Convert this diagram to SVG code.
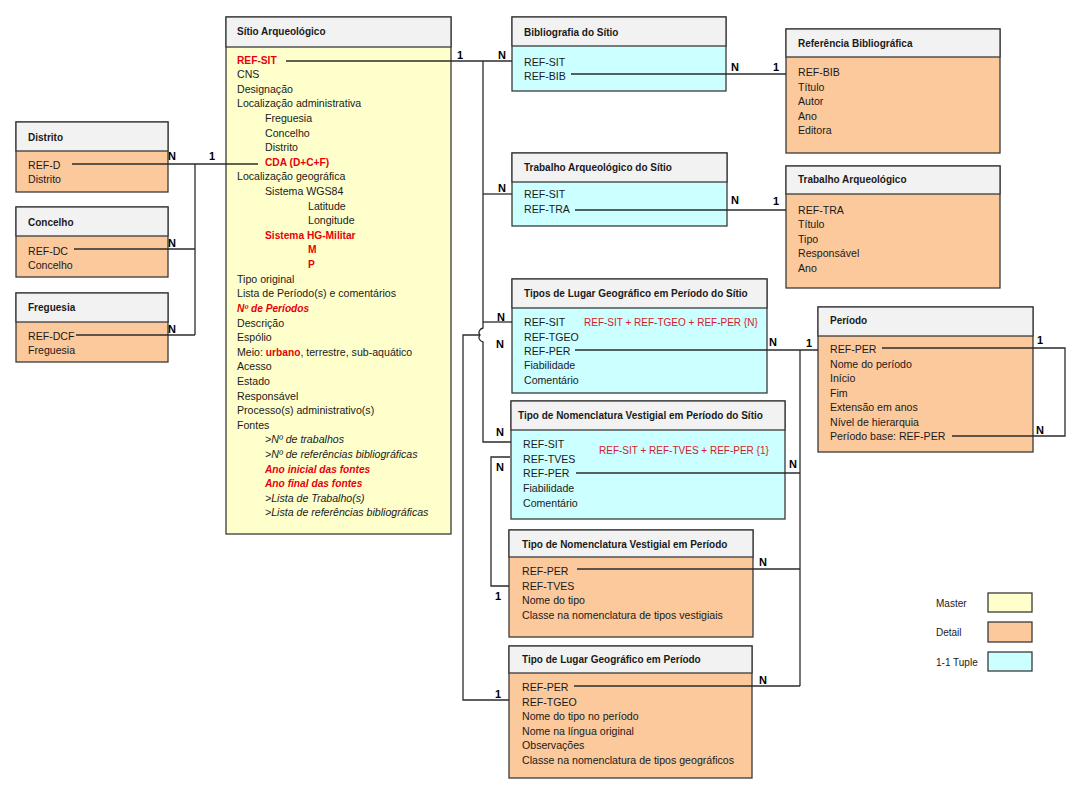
<svg xmlns="http://www.w3.org/2000/svg" width="1088" height="790" viewBox="0 0 1088 790">
<style>
text{font-family:"Liberation Sans",Arial,sans-serif;font-size:10.6px;fill:#1a1a1a}
.h{font-weight:bold;font-size:10px}
.box{stroke:#3a3a3a;stroke-width:1.3}
.hd{fill:#f2f2f2}
.m{fill:#ffffcc}
.d{fill:#fcc99c}
.t{fill:#ccffff}
.r{fill:#e8000b;font-weight:bold;font-size:10.2px}
.ri{fill:#e8000b;font-weight:bold;font-style:italic;font-size:10.2px}
.i{font-style:italic}
.f{fill:#d4202a;font-size:10px}
.lb{font-weight:bold;font-size:11px;fill:#000}
.lg{font-size:10px}
.c{fill:none;stroke:#2b2b2b;stroke-width:1.3}
</style>
<rect width="1088" height="790" fill="#ffffff"/>

<g id="sitio">
<rect class="box m" x="226" y="17" width="225" height="517"/>
<rect class="box hd" x="226" y="17" width="225" height="30"/>
<text class="h" x="237" y="35">Sítio Arqueológico</text>
<text class="r" x="237" y="63.5">REF-SIT</text>
<text x="237" y="78.1">CNS</text>
<text x="237" y="92.7">Designação</text>
<text x="237" y="107.3">Localização administrativa</text>
<text x="265" y="122">Freguesia</text>
<text x="265" y="136.6">Concelho</text>
<text x="265" y="151.2">Distrito</text>
<text class="r" x="265" y="165.8">CDA (D+C+F)</text>
<text x="237" y="180.4">Localização geográfica</text>
<text x="265" y="195">Sistema WGS84</text>
<text x="308" y="209.6">Latitude</text>
<text x="308" y="224.2">Longitude</text>
<text class="r" x="265" y="238.8">Sistema HG-Militar</text>
<text class="r" x="308" y="253.4">M</text>
<text class="r" x="308" y="268">P</text>
<text x="237" y="282.7">Tipo original</text>
<text x="237" y="297.3">Lista de Período(s) e comentários</text>
<text class="ri" x="237" y="311.9">Nº de Períodos</text>
<text x="237" y="326.5">Descrição</text>
<text x="237" y="341.1">Espólio</text>
<text x="237" y="355.7">Meio: <tspan class="r">urbano</tspan>,  terrestre, sub-aquático</text>
<text x="237" y="370.3">Acesso</text>
<text x="237" y="384.9">Estado</text>
<text x="237" y="399.5">Responsável</text>
<text x="237" y="414.1">Processo(s) administrativo(s)</text>
<text x="237" y="428.8">Fontes</text>
<text class="i" x="265" y="443.4">&gt;Nº de trabalhos</text>
<text class="i" x="265" y="458">&gt;Nº de referências bibliográficas</text>
<text class="ri" x="265" y="472.6">Ano inicial das fontes</text>
<text class="ri" x="265" y="487.2">Ano final das fontes</text>
<text class="i" x="265" y="501.8">&gt;Lista de Trabalho(s)</text>
<text class="i" x="265" y="516.4">&gt;Lista de referências bibliográficas</text>
</g>

<g id="distrito">
<rect class="box d" x="16" y="122" width="152" height="70"/>
<rect class="box hd" x="16" y="122" width="152" height="29"/>
<text class="h" x="28" y="140.5">Distrito</text>
<text x="28" y="168.5">REF-D</text>
<text x="28" y="182.5">Distrito</text>
</g>

<g id="concelho">
<rect class="box d" x="16" y="207" width="152" height="70"/>
<rect class="box hd" x="16" y="207" width="152" height="29"/>
<text class="h" x="28" y="225.5">Concelho</text>
<text x="28" y="254.5">REF-DC</text>
<text x="28" y="268.5">Concelho</text>
</g>

<g id="freguesia">
<rect class="box d" x="16" y="293" width="152" height="69"/>
<rect class="box hd" x="16" y="293" width="152" height="29"/>
<text class="h" x="28" y="310.5">Freguesia</text>
<text x="28" y="339.5">REF-DCF</text>
<text x="28" y="353.5">Freguesia</text>
</g>

<g id="bibliografia-sitio">
<rect class="box t" x="512" y="17" width="214" height="74"/>
<rect class="box hd" x="512" y="17" width="214" height="29"/>
<text class="h" x="524" y="35.5">Bibliografia do Sítio</text>
<text x="524" y="65.5">REF-SIT</text>
<text x="524" y="79.5">REF-BIB</text>
</g>

<g id="trabalho-sitio">
<rect class="box t" x="512" y="153" width="215" height="73"/>
<rect class="box hd" x="512" y="153" width="215" height="29"/>
<text class="h" x="524" y="170.5">Trabalho Arqueológico  do Sítio</text>
<text x="524" y="197.5">REF-SIT</text>
<text x="524" y="212.5">REF-TRA</text>
</g>

<g id="referencia-bibliografica">
<rect class="box d" x="786" y="29" width="214" height="124"/>
<rect class="box hd" x="786" y="29" width="214" height="28"/>
<text class="h" x="798" y="46.5">Referência Bibliográfica</text>
<text x="798" y="75.5">REF-BIB</text>
<text x="798" y="90.5">Título</text>
<text x="798" y="104.5">Autor</text>
<text x="798" y="119.5">Ano</text>
<text x="798" y="133.5">Editora</text>
</g>

<g id="trabalho-arqueologico">
<rect class="box d" x="786" y="166" width="214" height="122"/>
<rect class="box hd" x="786" y="166" width="214" height="28"/>
<text class="h" x="798" y="182.5">Trabalho Arqueológico</text>
<text x="798" y="213.5">REF-TRA</text>
<text x="798" y="227.5">Título</text>
<text x="798" y="242.5">Tipo</text>
<text x="798" y="256.5">Responsável</text>
<text x="798" y="271.5">Ano</text>
</g>

<g id="tipos-lugar-sitio">
<rect class="box t" x="512" y="279" width="255" height="114"/>
<rect class="box hd" x="512" y="279" width="255" height="29"/>
<text class="h" x="524" y="296.5">Tipos de Lugar  Geográfico em Período  do Sítio</text>
<text x="524" y="325.5">REF-SIT</text>
<text x="524" y="340.5">REF-TGEO</text>
<text x="524" y="354.5">REF-PER</text>
<text x="524" y="368.5">Fiabilidade</text>
<text x="524" y="383.5">Comentário</text>
<text class="f" x="584" y="325.5">REF-SIT + REF-TGEO + REF-PER {N}</text>
</g>

<g id="tipo-nomenclatura-sitio">
<rect class="box t" x="511" y="401" width="274" height="118"/>
<rect class="box hd" x="511" y="401" width="274" height="29"/>
<text class="h" x="518" y="418.5">Tipo de  Nomenclatura  Vestigial em Período  do Sítio</text>
<text x="523" y="447.5">REF-SIT</text>
<text x="523" y="462.5">REF-TVES</text>
<text x="523" y="476.5">REF-PER</text>
<text x="523" y="491.5">Fiabilidade</text>
<text x="523" y="506.5">Comentário</text>
<text class="f" x="599" y="453.5">REF-SIT + REF-TVES + REF-PER {1}</text>
</g>

<g id="periodo">
<rect class="box d" x="818" y="307" width="215" height="145"/>
<rect class="box hd" x="818" y="307" width="215" height="29"/>
<text class="h" x="830" y="323.5">Período</text>
<text x="830" y="352.5">REF-PER</text>
<text x="830" y="367.5">Nome do período</text>
<text x="830" y="381.5">Início</text>
<text x="830" y="396.5">Fim</text>
<text x="830" y="410.5">Extensão em anos</text>
<text x="830" y="425.5">Nível de hierarquia</text>
<text x="830" y="439.5">Período base: REF-PER</text>
</g>

<g id="tipo-nomenclatura-periodo">
<rect class="box d" x="509" y="530" width="244" height="107"/>
<rect class="box hd" x="509" y="530" width="244" height="27"/>
<text class="h" x="522" y="547.5">Tipo de  Nomenclatura  Vestigial em Período</text>
<text x="522" y="574.5">REF-PER</text>
<text x="522" y="589.5">REF-TVES</text>
<text x="522" y="603.5">Nome do tipo</text>
<text x="522" y="618.5">Classe na nomenclatura de tipos vestigiais</text>
</g>

<g id="tipo-lugar-periodo">
<rect class="box d" x="509" y="646" width="243" height="132"/>
<rect class="box hd" x="509" y="646" width="243" height="27"/>
<text class="h" x="522" y="662.5">Tipo de  Lugar Geográfico em Período</text>
<text x="522" y="690.5">REF-PER</text>
<text x="522" y="705.5">REF-TGEO</text>
<text x="522" y="719.5">Nome do tipo no período</text>
<text x="522" y="734.5">Nome na língua original</text>
<text x="522" y="748.5">Observações</text>
<text x="522" y="763.5">Classe na nomenclatura de tipos geográficos</text>
</g>

<g id="legend">
<text class="lg" x="936" y="606.5">Master</text>
<rect class="box m" x="988" y="593" width="44" height="19" stroke-width="1"/>
<text class="lg" x="936" y="635.5">Detail</text>
<rect class="box d" x="988" y="622" width="44" height="20" stroke-width="1"/>
<text class="lg" x="936" y="665.5">1-1 Tuple</text>
<rect class="box t" x="988" y="652" width="44" height="19" stroke-width="1"/>
</g>

<g id="connectors">
<path class="c" d="M72,164 H258"/>
<path class="c" d="M195,164 V335"/>
<path class="c" d="M74,249 H195"/>
<path class="c" d="M76,335 H195"/>
<path class="c" d="M286,61 H512"/>
<path class="c" d="M483,61 V328 C479,329 478,333 480,335 C478,337 479,341 483,342 V442 H511"/>
<path class="c" d="M483,194 H512"/>
<path class="c" d="M483,322 H512"/>
<path class="c" d="M509,700 H463 V335 H480"/>
<path class="c" d="M571,74 H786"/>
<path class="c" d="M575,210 H786"/>
<path class="c" d="M575,350 H818"/>
<path class="c" d="M800,350 V686"/>
<path class="c" d="M576,473 H800"/>
<path class="c" d="M577,569 H800"/>
<path class="c" d="M574,686 H800"/>
<path class="c" d="M882,348 H1065 V436 H952"/>
<path class="c" d="M510,457 H491 V586 H509"/>
<text class="lb" x="168" y="160">N</text>
<text class="lb" x="209" y="160">1</text>
<text class="lb" x="168" y="247">N</text>
<text class="lb" x="168" y="333">N</text>
<text class="lb" x="457" y="59">1</text>
<text class="lb" x="498" y="59">N</text>
<text class="lb" x="498" y="192">N</text>
<text class="lb" x="731" y="71">N</text>
<text class="lb" x="773" y="71">1</text>
<text class="lb" x="731" y="204">N</text>
<text class="lb" x="773" y="205">1</text>
<text class="lb" x="497" y="321">N</text>
<text class="lb" x="496" y="348">N</text>
<text class="lb" x="496" y="436">N</text>
<text class="lb" x="496" y="471">N</text>
<text class="lb" x="769" y="346">N</text>
<text class="lb" x="806" y="347">1</text>
<text class="lb" x="1037" y="344">1</text>
<text class="lb" x="1036" y="434">N</text>
<text class="lb" x="789" y="468">N</text>
<text class="lb" x="759" y="566">N</text>
<text class="lb" x="495" y="600">1</text>
<text class="lb" x="759" y="684">N</text>
<text class="lb" x="495" y="698">1</text>
</g>
</svg>
